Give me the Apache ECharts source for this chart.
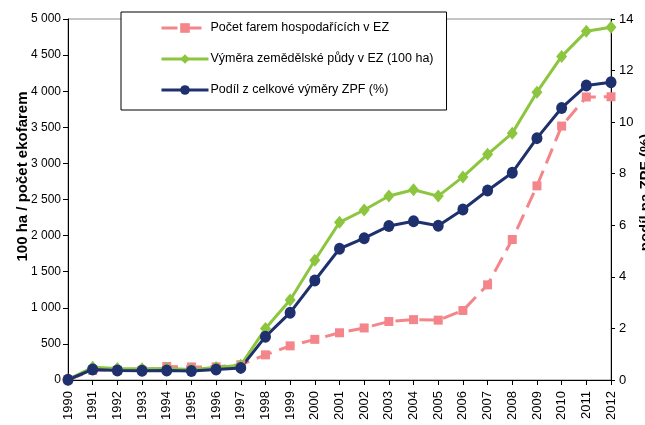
<!DOCTYPE html>
<html>
<head>
<meta charset="utf-8">
<script src="https://cdn.jsdelivr.net/npm/echarts@6/dist/echarts.min.js"></script>
<style>html,body{margin:0;padding:0;background:#fff}#c{width:645px;height:425px}</style>
</head>
<body>
<div id="c"></div>
<script>
var years = ['1990','1991','1992','1993','1994','1995','1996','1997','1998','1999','2000','2001','2002','2003','2004','2005','2006','2007','2008','2009','2010','2011','2012'];
var farms = [3,132,135,135,187,181,182,211,348,473,563,654,721,810,836,829,963,1318,1946,2689,3517,3920,3923];
var area = [5,176,159,156,159,147,173,203,712,1109,1659,2184,2355,2549,2635,2547,2813,3126,3419,3986,4482,4829,4887];
var share = [0.01,0.41,0.37,0.36,0.37,0.35,0.41,0.47,1.68,2.61,3.86,5.09,5.50,5.97,6.16,5.98,6.61,7.35,8.04,9.38,10.55,11.42,11.55];
var seriesNames = ['Počet farem hospodařících v EZ','Výměra zemědělské půdy v EZ (100 ha)','Podíl z celkové výměry ZPF (%)'];
var leftAxisName = '100 ha / počet ekofarem';
var rightAxisName = 'podíl na ZPF (%)';

var FONT = 'Liberation Sans, Arial, sans-serif';
var chart = echarts.init(document.getElementById('c'), null, {renderer:'canvas'});
chart.setOption({
  animation: false,
  backgroundColor: '#fff',
  textStyle: {fontFamily: FONT, color: '#000'},
  grid: {left: 68, right: 34, top: 19, bottom: 45, show: true, borderColor: '#8a8a8a', borderWidth: 1,
         containLabel: false, outerBoundsMode: 'none'},
  legend: {
    orient: 'vertical', left: 121, top: 12,
    backgroundColor: '#fff', borderColor: '#000', borderWidth: 1,
    padding: [9, 13, 13, 39],
    itemWidth: 47, itemHeight: 12, itemGap: 17,
    lineStyle: {width: 3},
    textStyle: {fontFamily: FONT, fontSize: 12.5, color: '#000', lineHeight: 14, padding: [0,0,0,-3]},
    data: seriesNames
  },
  xAxis: {
    type: 'category', data: years, boundaryGap: false,
    axisLine: {lineStyle: {color: '#000', width: 1}},
    axisTick: {show: true, alignWithLabel: true, length: 5, lineStyle: {color: '#000'}},
    axisLabel: {rotate: 90, fontSize: 13, color: '#000', margin: 11, fontFamily: FONT, interval: 0},
    splitLine: {show: false}
  },
  yAxis: [{
    type: 'value', min: 0, max: 5000, interval: 500, position: 'left',
    name: leftAxisName, nameLocation: 'middle', nameGap: 38, nameMoveOverlap: false,
    nameTextStyle: {fontFamily: FONT, fontWeight: 'bold', fontSize: 15, color: '#000', padding: [0,0,0,46]},
    axisLine: {show: true, lineStyle: {color: '#000', width: 1}},
    axisTick: {show: true, length: 5, lineStyle: {color: '#000'}},
    axisLabel: {fontSize: 12, color: '#000', margin: 7, fontFamily: FONT,
      formatter: function(v){ return v >= 1000 ? Math.floor(v/1000) + ' ' + String(v%1000).padStart(3,'0') : String(v); }},
    splitLine: {show: false}
  }, {
    type: 'value', min: 0, max: 14, interval: 2, position: 'right',
    name: rightAxisName, nameLocation: 'middle', nameGap: 27, nameMoveOverlap: false,
    nameTextStyle: {fontFamily: FONT, fontWeight: 'bold', fontSize: 15, color: '#000', padding: [0,0,0,14]},
    axisLine: {show: true, lineStyle: {color: '#000', width: 1}},
    axisTick: {show: true, length: 4, lineStyle: {color: '#000'}},
    axisLabel: {fontSize: 13, color: '#000', margin: 8, fontFamily: FONT},
    splitLine: {show: false}
  }],
  series: [{
    name: seriesNames[0], type: 'line', yAxisIndex: 0, data: farms,
    symbol: 'rect', symbolSize: 9, showAllSymbol: true,
    lineStyle: {color: '#F4858A', width: 3, type: [16, 8]},
    itemStyle: {color: '#F4858A'}
  }, {
    name: seriesNames[1], type: 'line', yAxisIndex: 0, data: area,
    symbol: 'diamond', symbolSize: [11, 13], showAllSymbol: true,
    lineStyle: {color: '#8CC63E', width: 3},
    itemStyle: {color: '#8CC63E'}
  }, {
    name: seriesNames[2], type: 'line', yAxisIndex: 1, data: share,
    symbol: 'circle', symbolSize: [11, 12], showAllSymbol: true,
    lineStyle: {color: '#1F306E', width: 3},
    itemStyle: {color: '#1F306E'}
  }]
});
</script>
</body>
</html>
